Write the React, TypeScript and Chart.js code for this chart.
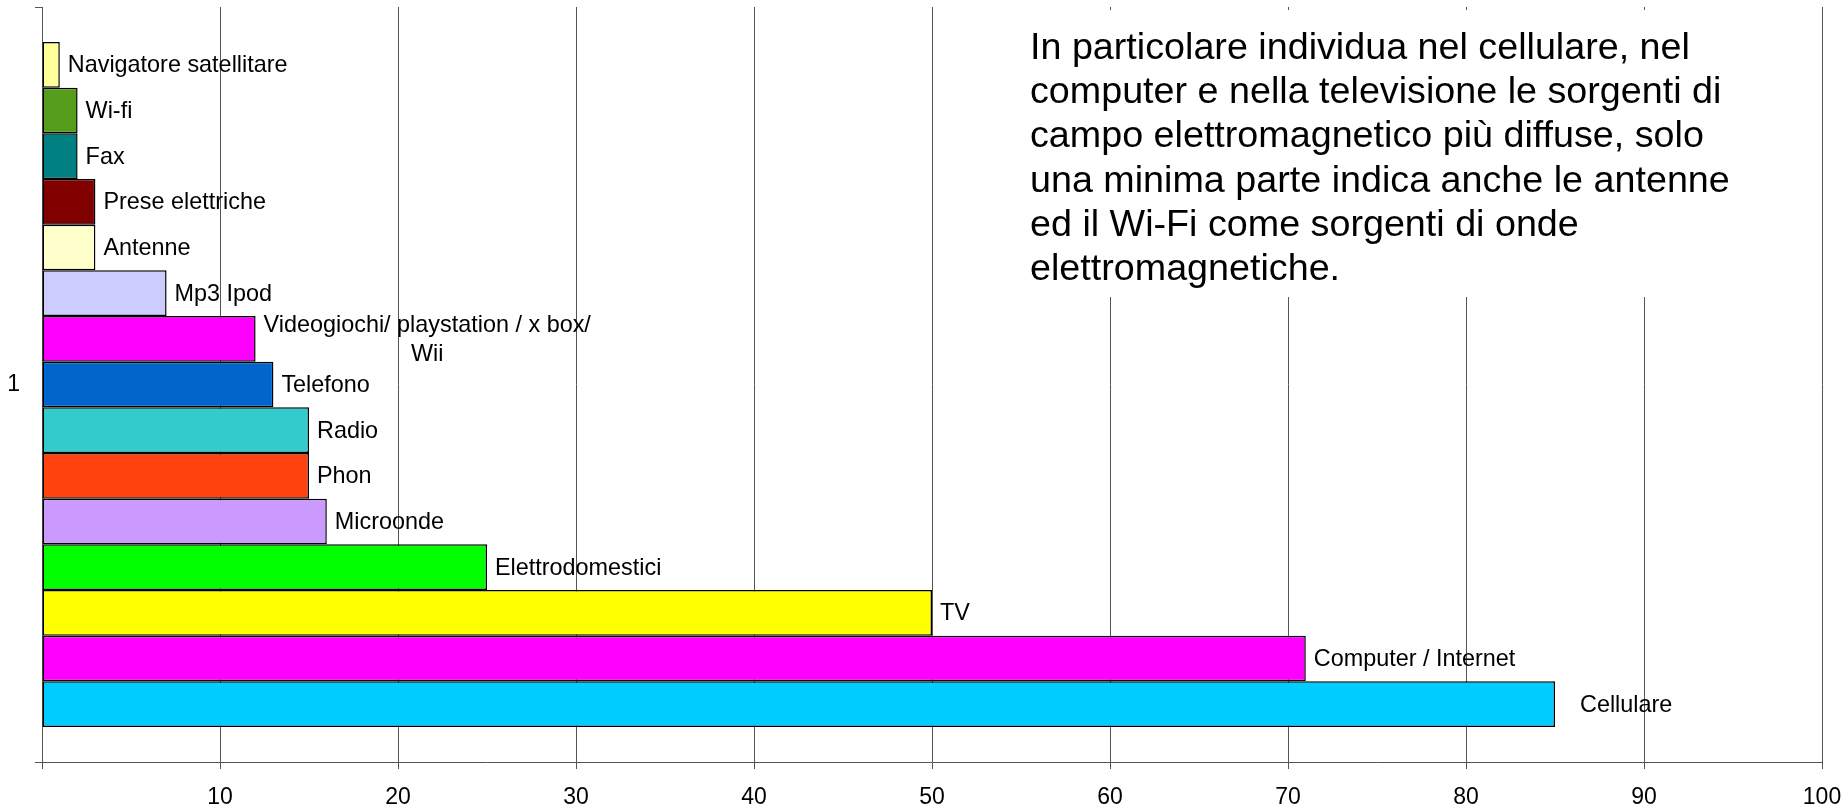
import React, { useEffect, useRef } from 'react';
import { Chart, registerables } from 'chart.js';

Chart.register(...registerables);

const categories = ['1'];
const sourceNames = [
  'Navigatore satellitare',
  'Wi-fi',
  'Fax',
  'Prese elettriche',
  'Antenne',
  'Mp3 Ipod',
  'Videogiochi/ playstation / x box/\nWii',
  'Telefono',
  'Radio',
  'Phon',
  'Microonde',
  'Elettrodomestici',
  'TV',
  'Computer / Internet',
  'Cellulare',
];
const sourceValues = [1, 2, 2, 3, 3, 7, 12, 13, 15, 15, 16, 25, 50, 71, 85];
const sourceColors = [
  '#FFFF99',
  '#579D1C',
  '#008080',
  '#800000',
  '#FFFFCC',
  '#CCCCFF',
  '#FF00FF',
  '#0066CC',
  '#33CCCC',
  '#FF420E',
  '#CC99FF',
  '#00FF00',
  '#FFFF00',
  '#FF00FF',
  '#00CCFF',
];
const noteLines = [
  'In particolare individua nel cellulare, nel',
  'computer e nella televisione le sorgenti di',
  'campo elettromagnetico più diffuse, solo',
  'una minima parte indica anche le antenne',
  'ed il Wi-Fi come sorgenti di onde',
  'elettromagnetiche.',
];

const FONT = '"Liberation Sans", Arial, sans-serif';
const LINE_COLOR = '#555555';

const barLabelPlugin = {
  id: 'barLabels',
  afterDatasetsDraw(chart: any) {
    const ctx = chart.ctx;
    ctx.save();
    ctx.font = `23.4px ${FONT}`;
    ctx.fillStyle = '#000';
    ctx.textBaseline = 'middle';
    ctx.textAlign = 'center';
    const last = chart.data.datasets.length - 1;
    chart.data.datasets.forEach((ds: any, i: number) => {
      const meta = chart.getDatasetMeta(i);
      const bar = meta.data[0];
      if (!bar) return;
      const lines = String(ds.label).split('\n');
      const maxW = Math.max(...lines.map((l: string) => ctx.measureText(l).width));
      const gap = i === last ? 25 : 8;
      const cx = bar.x + gap + maxW / 2;
      const lh = 29;
      const y0 = bar.y + 1 - ((lines.length - 1) * lh) / 2;
      lines.forEach((l: string, k: number) => {
        ctx.fillText(l, cx, y0 + k * lh);
      });
    });
    ctx.restore();
  },
};

const noteBoxPlugin = {
  id: 'noteBox',
  afterDraw(chart: any) {
    const ctx = chart.ctx;
    ctx.save();
    ctx.fillStyle = '#ffffff';
    ctx.fillRect(1000, 10, 760, 287);
    ctx.fillStyle = '#000';
    ctx.font = `37.7px ${FONT}`;
    ctx.textAlign = 'left';
    ctx.textBaseline = 'alphabetic';
    noteLines.forEach((line, k) => {
      ctx.fillText(line, 1030, 59 + k * 44.2);
    });
    ctx.restore();
  },
};

export default function App() {
  const canvasRef = useRef<HTMLCanvasElement | null>(null);

  useEffect(() => {
    if (!canvasRef.current) return;
    const datasets = sourceNames.map((name, i) => ({
      label: name,
      data: [sourceValues[i]],
      backgroundColor: sourceColors[i],
      borderColor: '#000000',
      borderWidth: 1.5,
      borderSkipped: false,
      categoryPercentage: 0.9073,
      barPercentage: 1,
    }));
    const chart = new Chart(canvasRef.current, {
      type: 'bar',
      data: { labels: categories, datasets },
      options: {
        indexAxis: 'y',
        responsive: false,
        animation: false,
        layout: { padding: { top: 7, right: 24, left: 0, bottom: 0 } },
        plugins: {
          legend: { display: false },
          tooltip: { enabled: false },
        },
        scales: {
          x: {
            type: 'linear',
            min: 0,
            max: 100,
            afterFit: (s: any) => {
              s.height = 48;
              s.paddingLeft = 0;
              s.paddingRight = 0;
            },
            ticks: {
              stepSize: 10,
              padding: 15,
              color: '#000',
              font: { family: FONT, size: 23 },
              callback: (v: any) => (v === 0 ? '' : String(v)),
            },
            grid: {
              color: LINE_COLOR,
              lineWidth: 1,
              tickLength: 7,
              drawTicks: true,
            },
            border: { display: true, color: LINE_COLOR, width: 1 },
          },
          y: {
            type: 'category',
            offset: true,
            afterFit: (s: any) => {
              s.width = 42;
              s.paddingTop = 0;
              s.paddingBottom = 0;
            },
            ticks: {
              padding: 15,
              color: '#000',
              font: { family: FONT, size: 23 },
            },
            grid: {
              offset: true,
              drawOnChartArea: false,
              color: LINE_COLOR,
              tickLength: 7,
            },
            border: { display: true, color: LINE_COLOR, width: 1 },
          },
        },
      },
      plugins: [barLabelPlugin, noteBoxPlugin],
    });
    return () => chart.destroy();
  }, []);

  return (
    <div style={{ position: 'absolute', left: 0, top: 0, width: 1846, height: 810, background: '#fff' }}>
      <canvas ref={canvasRef} width={1846} height={810} style={{ display: 'block' }} />
    </div>
  );
}
